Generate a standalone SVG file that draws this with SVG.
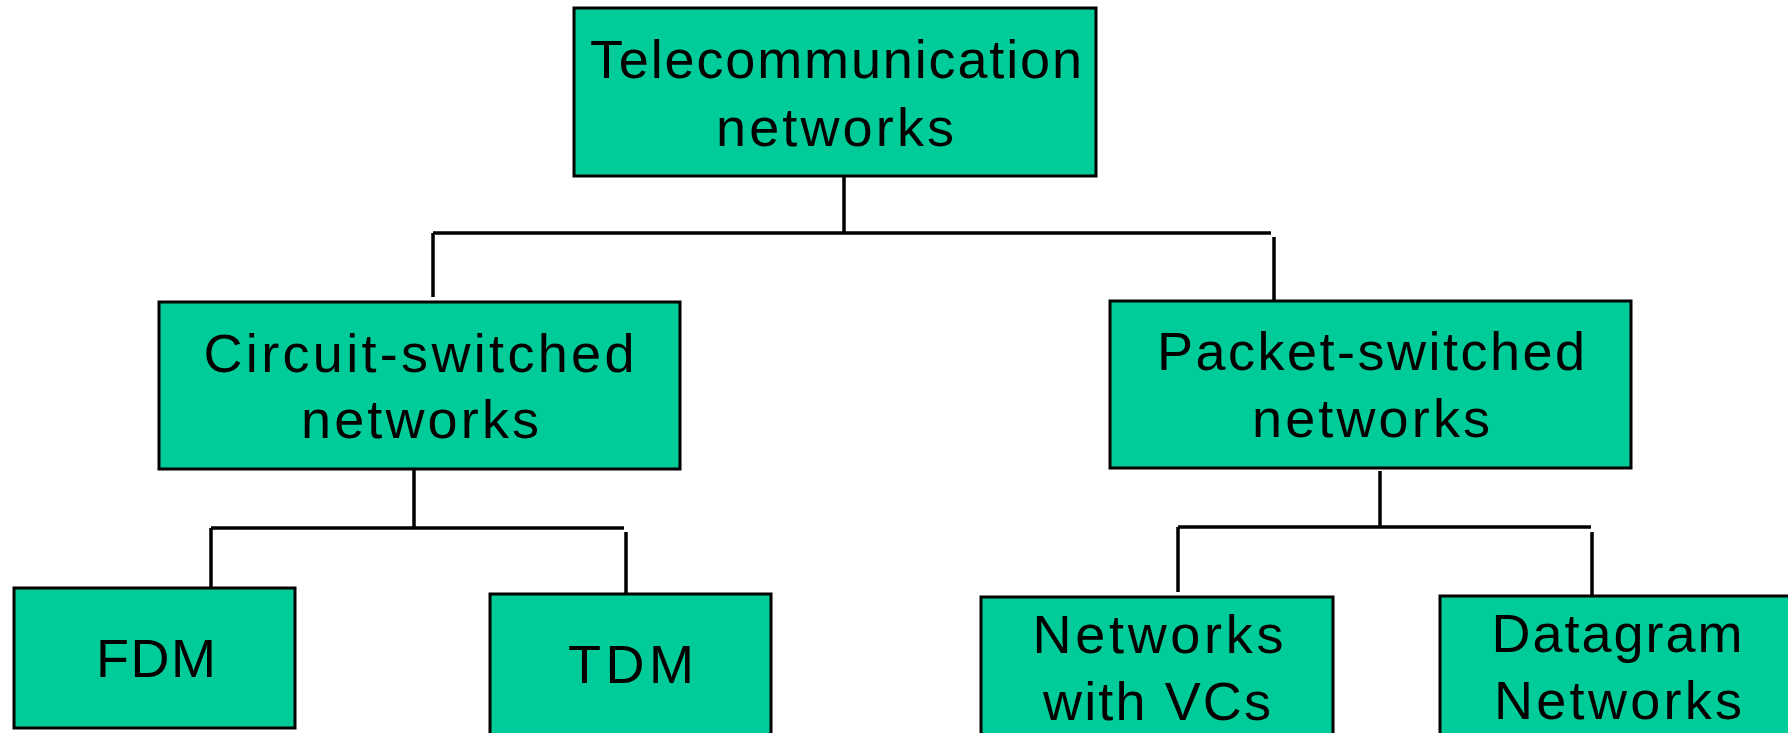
<svg xmlns="http://www.w3.org/2000/svg" width="1788" height="733" viewBox="0 0 1788 733">
<style>
.box{fill:#00CC99;stroke:#000;stroke-width:3}
.lbl{font-family:"Liberation Sans",Arial,sans-serif;font-size:54px;fill:#000;text-anchor:middle}
.con{stroke:#000;stroke-width:3.5;fill:none}
</style>
<rect width="1788" height="733" fill="#fff"/>
<g id="connectors">
<line class="con" x1="844" y1="176" x2="844" y2="233"/>
<line class="con" x1="433" y1="233" x2="1271" y2="233"/>
<line class="con" x1="433" y1="233" x2="433" y2="297"/>
<line class="con" x1="1274" y1="237" x2="1274" y2="300"/>
<line class="con" x1="414" y1="469" x2="414" y2="528"/>
<line class="con" x1="211" y1="528" x2="624" y2="528"/>
<line class="con" x1="211" y1="528" x2="211" y2="591"/>
<line class="con" x1="626" y1="532" x2="626" y2="595"/>
<line class="con" x1="1380" y1="471" x2="1380" y2="527"/>
<line class="con" x1="1178" y1="527" x2="1591" y2="527"/>
<line class="con" x1="1178" y1="527" x2="1178" y2="592"/>
<line class="con" x1="1592" y1="532" x2="1592" y2="595"/>
</g>
<g id="telecom">
<rect class="box" x="574" y="8" width="522" height="168"/>
<text class="lbl" x="836" y="78" textLength="492" lengthAdjust="spacing">Telecommunication</text>
<text class="lbl" x="835" y="146" textLength="238" lengthAdjust="spacing">networks</text>
</g>
<g id="circuit">
<rect class="box" x="159" y="302" width="521" height="167"/>
<text class="lbl" x="419" y="372" textLength="431" lengthAdjust="spacing">Circuit-switched</text>
<text class="lbl" x="420" y="438" textLength="238" lengthAdjust="spacing">networks</text>
</g>
<g id="packet">
<rect class="box" x="1110" y="301" width="521" height="167"/>
<text class="lbl" x="1371" y="370" textLength="428" lengthAdjust="spacing">Packet-switched</text>
<text class="lbl" x="1371" y="437" textLength="238" lengthAdjust="spacing">networks</text>
</g>
<g id="fdm">
<rect class="box" x="14" y="588" width="281" height="140"/>
<text class="lbl" x="156" y="677" textLength="120" lengthAdjust="spacing">FDM</text>
</g>
<g id="tdm">
<rect class="box" x="490" y="594" width="281" height="150"/>
<text class="lbl" x="631" y="683" textLength="126" lengthAdjust="spacing">TDM</text>
</g>
<g id="vc">
<rect class="box" x="981" y="597" width="352" height="150"/>
<text class="lbl" x="1158" y="653" textLength="251" lengthAdjust="spacing">Networks</text>
<text class="lbl" x="1157" y="720" textLength="228" lengthAdjust="spacing">with VCs</text>
</g>
<g id="datagram">
<rect class="box" x="1440" y="596" width="360" height="150"/>
<text class="lbl" x="1617" y="652" textLength="251" lengthAdjust="spacing">Datagram</text>
<text class="lbl" x="1618" y="719" textLength="248" lengthAdjust="spacing">Networks</text>
</g>
</svg>
